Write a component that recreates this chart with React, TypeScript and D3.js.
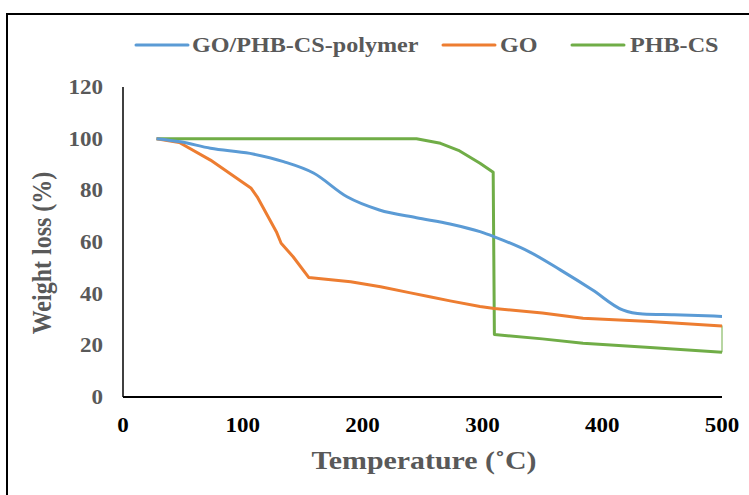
import React from "react";
import * as d3 from "d3";

const seriesNames = ["GO/PHB-CS-polymer", "GO", "PHB-CS"];
const seriesColors = ["#5B9BD5", "#ED7D31", "#70AD47"];

const blueT = [28, 48, 73, 106, 134, 159, 187, 214, 245, 273, 298, 310, 340, 365, 392, 417, 434, 460, 500];
const blueW = [100, 98.8, 96.3, 94.3, 91.1, 86.7, 77.5, 72.4, 69.4, 67, 64, 62, 56, 49.2, 41.4, 33.7, 32.1, 31.8, 31.2];

const orangeT = [28, 47, 73, 107, 112, 128, 132, 142, 155, 190, 215, 240, 256, 273, 298, 310, 350, 384, 440, 500];
const orangeW = [100, 98.5, 91.7, 80.8, 77.5, 64, 59.5, 54.3, 46.3, 44.6, 42.7, 40.3, 38.8, 37.2, 35, 34.3, 32.5, 30.5, 29.2, 27.5];

const greenT = [28, 245, 265, 280, 298, 309, 310, 350, 384, 440, 500];
const greenW = [100, 100, 98.2, 95.5, 90.5, 87, 24.2, 22.5, 20.8, 19.2, 17.3];
const greenTailT = [500, 500];
const greenTailW = [17.3, 27.7];

const xTicks = [0, 100, 200, 300, 400, 500];
const yTicks = [0, 20, 40, 60, 80, 100, 120];

const W = 749;
const H = 495;
const SX = 1.15;

export default function App() {
  const x = d3.scaleLinear().domain([0, 500]).range([123, 722]);
  const y = d3.scaleLinear().domain([0, 120]).range([397, 87]);

  const mk = (ts: number[], ws: number[]) => ts.map((t, i) => [t, ws[i]] as [number, number]);
  const smooth = d3.line<[number, number]>().x(d => x(d[0])).y(d => y(d[1])).curve(d3.curveMonotoneX);
  const lin = d3.line<[number, number]>().x(d => x(d[0])).y(d => y(d[1]));

  const font = "'Liberation Serif', 'Times New Roman', serif";
  const gray = "#595959";

  const legendItems = [
    { name: seriesNames[0], color: seriesColors[0], lx: 136, tx: 192 },
    { name: seriesNames[1], color: seriesColors[1], lx: 443, tx: 500 },
    { name: seriesNames[2], color: seriesColors[2], lx: 572, tx: 630 },
  ];

  return (
    <svg width={W} height={H} style={{ position: "absolute", left: 0, top: 0, display: "block", background: "#fff" }}>
      <rect x={0} y={0} width={W} height={H} fill="#fff" />
      <rect x={7} y={14} width={800} height={600} fill="none" stroke="#000" strokeWidth={2} />

      {/* Legend */}
      {legendItems.map((it) => (
        <g key={it.name}>
          <line x1={it.lx} x2={it.lx + 52} y1={45} y2={45} stroke={it.color} strokeWidth={3} strokeLinecap="round" />
          <text transform={`translate(${it.tx},52) scale(${SX},1)`} fontFamily={font} fontWeight="bold" fontSize={21} fill={gray}>
            {it.name}
          </text>
        </g>
      ))}

      {/* Axes */}
      <line x1={x(0)} x2={x(0)} y1={y(120)} y2={y(0)} stroke="#000" strokeWidth={1.5} />
      <line x1={x(0)} x2={x(500)} y1={y(0)} y2={y(0)} stroke="#000" strokeWidth={2} />

      {yTicks.map((t) => (
        <text key={"y" + t} transform={`translate(103,${y(t) + 7}) scale(${SX},1)`} textAnchor="end" fontFamily={font} fontWeight="bold" fontSize={20} fill={gray}>
          {t}
        </text>
      ))}
      {xTicks.map((t) => (
        <text key={"x" + t} transform={`translate(${x(t)},432) scale(${SX},1)`} textAnchor="middle" fontFamily={font} fontWeight="bold" fontSize={20} fill="#000">
          {t}
        </text>
      ))}

      <text transform={`translate(424,469) scale(${SX},1)`} textAnchor="middle" fontFamily={font} fontWeight="bold" fontSize={26} fill={gray}>
        Temperature (˚C)
      </text>
      <text transform={`translate(51,253) scale(${SX},1) rotate(-90)`} textAnchor="middle" fontFamily={font} fontWeight="bold" fontSize={24} fill={gray}>
        Weight loss (%)
      </text>

      {/* Series */}
      <path d={lin(mk(greenT, greenW)) || ""} fill="none" stroke={seriesColors[2]} strokeWidth={3} strokeLinejoin="round" />
      <path d={lin(mk(greenTailT, greenTailW)) || ""} fill="none" stroke={seriesColors[2]} strokeWidth={1} />
      <path d={lin(mk(orangeT, orangeW)) || ""} fill="none" stroke={seriesColors[1]} strokeWidth={3} strokeLinejoin="round" />
      <path d={smooth(mk(blueT, blueW)) || ""} fill="none" stroke={seriesColors[0]} strokeWidth={3} strokeLinejoin="round" />
    </svg>
  );
}
